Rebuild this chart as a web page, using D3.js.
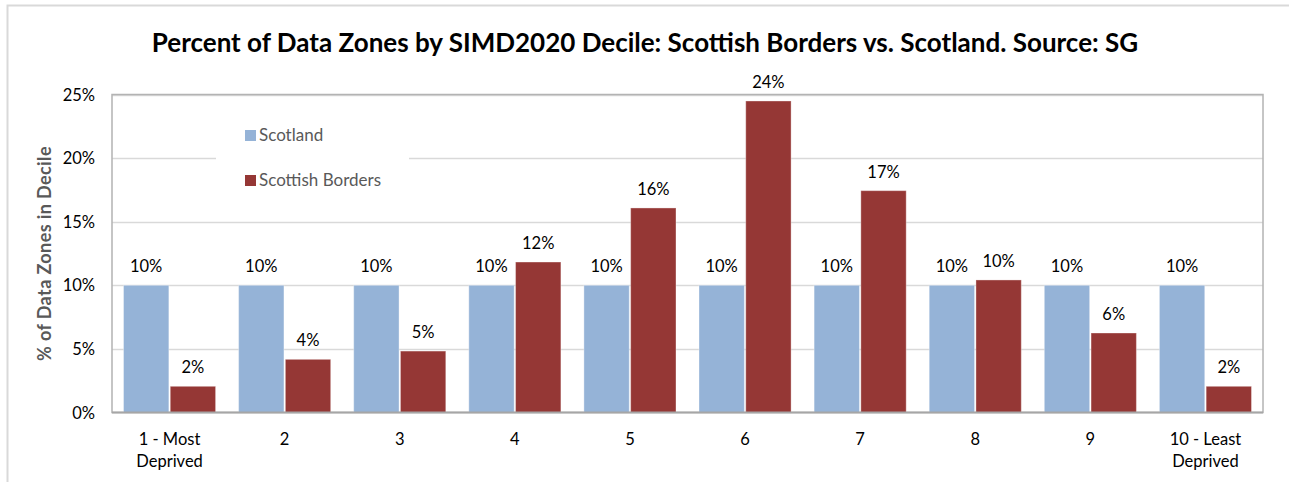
<!DOCTYPE html>
<html>
<head>
<meta charset="utf-8">
<script src="https://cdn.jsdelivr.net/npm/d3@7"></script>
<style>
  html, body { margin: 0; padding: 0; background: #fff; }
  svg text { font-family: Lato, "Open Sans", sans-serif; }
</style>
</head>
<body>
<div id="chart" style="width:1289px;height:482px;"></div>
<script>
// data
const deciles = ['1 - Most Deprived', '2', '3', '4', '5', '6', '7', '8', '9', '10 - Least Deprived'];
const seriesNames = ['Scotland', 'Scottish Borders'];
const scotland = [10, 10, 10, 10, 10, 10, 10, 10, 10, 10];
const borders = [2.06, 4.18, 4.83, 11.83, 16.08, 24.49, 17.44, 10.42, 6.25, 2.06];
const yTicks = [0, 5, 10, 15, 20, 25];

const colors = { 'Scotland': '#95b3d7', 'Scottish Borders': '#953735' };

const svg = d3.select('#chart').append('svg')
    .attr('width', 1289)
    .attr('height', 482);

// outer chart border
svg.append('rect')
    .attr('x', 7.5).attr('y', 5.5)
    .attr('width', 1300).attr('height', 500)
    .attr('fill', '#fff')
    .attr('stroke', '#d9d9d9')
    .attr('stroke-width', 2);

const plot = { left: 112, top: 94.5, right: 1263, bottom: 412.5 };

const x0 = d3.scaleBand()
    .domain(deciles)
    .range([plot.left, plot.right])
    .paddingInner(0.2)
    .paddingOuter(0.1);

const x1 = d3.scaleBand()
    .domain(seriesNames)
    .range([0, x0.bandwidth()])
    .paddingInner(0.03);

const y = d3.scaleLinear()
    .domain([0, 25])
    .range([plot.bottom, plot.top]);

// gridlines
svg.append('g')
    .selectAll('line')
    .data(yTicks.slice(1))
    .enter()
    .append('line')
    .attr('x1', plot.left).attr('x2', plot.right)
    .attr('y1', d => Math.round(y(d)) + 0.5)
    .attr('y2', d => Math.round(y(d)) + 0.5)
    .attr('stroke', '#d9d9d9')
    .attr('stroke-width', 1.5);

// plot border
svg.append('rect')
    .attr('x', plot.left).attr('y', plot.top)
    .attr('width', plot.right - plot.left)
    .attr('height', plot.bottom - plot.top)
    .attr('fill', 'none')
    .attr('stroke', '#b3b3b3')
    .attr('stroke-width', 1.5);

// legend (white box covers gridline)
const legend = svg.append('g');
legend.append('rect')
    .attr('x', 216).attr('y', 112)
    .attr('width', 193).attr('height', 88)
    .attr('fill', '#fff');
seriesNames.forEach((s, i) => {
    legend.append('rect')
        .attr('x', 245).attr('y', 130 + i * 45)
        .attr('width', 11).attr('height', 11)
        .attr('fill', colors[s]);
    legend.append('text')
        .attr('x', 259).attr('y', 141 + i * 45)
        .attr('font-size', '17px')
        .attr('fill', '#595959')
        .text(s);
});

// bars
const rows = deciles.map((d, i) => ({ decile: d, values: [
    { key: 'Scotland', value: scotland[i] },
    { key: 'Scottish Borders', value: borders[i] }
]}));

const groups = svg.append('g')
    .selectAll('g')
    .data(rows)
    .enter()
    .append('g')
    .attr('transform', d => `translate(${x0(d.decile)},0)`);

groups.selectAll('rect')
    .data(d => d.values)
    .enter()
    .append('rect')
    .attr('x', d => x1(d.key))
    .attr('y', d => y(d.value))
    .attr('width', x1.bandwidth())
    .attr('height', d => y(0) - y(d.value))
    .attr('fill', d => colors[d.key])
    .attr('stroke', '#fff')
    .attr('stroke-opacity', 0.35)
    .attr('stroke-width', 1);

groups.selectAll('text')
    .data(d => d.values)
    .enter()
    .append('text')
    .attr('x', d => x1(d.key) + x1.bandwidth() / 2)
    .attr('y', d => y(d.value) - 13)
    .attr('text-anchor', 'middle')
    .attr('font-size', '16.5px')
    .attr('fill', '#000')
    .text(d => Math.round(d.value) + '%');

// bottom axis line
svg.append('line')
    .attr('x1', plot.left).attr('x2', plot.right)
    .attr('y1', plot.bottom).attr('y2', plot.bottom)
    .attr('stroke', '#a6a6a6')
    .attr('stroke-width', 2);

// y tick labels
svg.append('g')
    .selectAll('text')
    .data(yTicks)
    .enter()
    .append('text')
    .attr('x', 95)
    .attr('y', d => y(d) + 6)
    .attr('text-anchor', 'end')
    .attr('font-size', '16.5px')
    .attr('fill', '#000')
    .text(d => d + '%');

// x labels (two lines where needed)
const xLab = svg.append('g')
    .selectAll('text')
    .data(deciles)
    .enter()
    .append('text')
    .attr('x', d => x0(d) + x0.bandwidth() / 2)
    .attr('y', 445)
    .attr('text-anchor', 'middle')
    .attr('font-size', '16.5px')
    .attr('fill', '#000');
xLab.each(function(d) {
    const parts = d.indexOf(' Deprived') > 0 ? [d.replace(' Deprived', ''), 'Deprived'] : [d];
    d3.select(this).selectAll('tspan')
        .data(parts)
        .enter()
        .append('tspan')
        .attr('x', x0(d) + x0.bandwidth() / 2)
        .attr('dy', (p, i) => i === 0 ? 0 : 22)
        .text(p => p);
});

// y axis title
svg.append('text')
    .attr('transform', `translate(51, ${(plot.top + plot.bottom) / 2}) rotate(-90)`)
    .attr('text-anchor', 'middle')
    .attr('font-size', '18px')
    .attr('font-weight', 'bold')
    .attr('fill', '#595959')
    .attr('letter-spacing', '0.4px')
    .text('% of Data Zones  in Decile');

// title
svg.append('text')
    .attr('x', 645)
    .attr('y', 52)
    .attr('text-anchor', 'middle')
    .attr('font-size', '26px')
    .attr('font-weight', 'bold')
    .attr('fill', '#000')
    .text('Percent of Data Zones by SIMD2020 Decile: Scottish Borders vs. Scotland. Source: SG');
</script>
</body>
</html>
